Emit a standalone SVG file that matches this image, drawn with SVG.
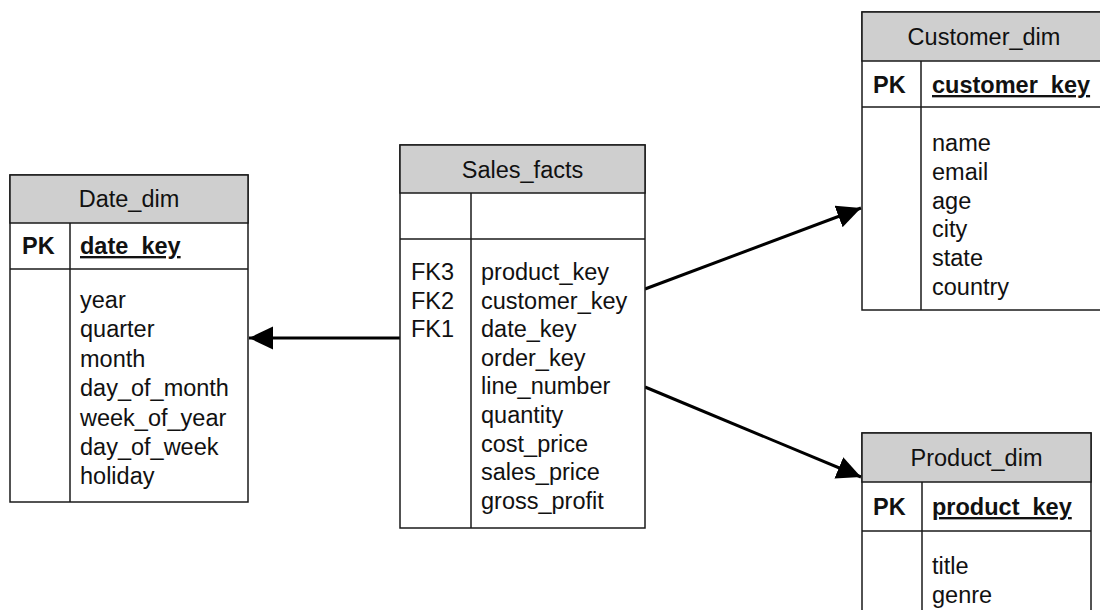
<svg xmlns="http://www.w3.org/2000/svg" width="1100" height="610" viewBox="0 0 1100 610">
<style>
.box{fill:#ffffff;stroke:#1a1a1a;stroke-width:1.5}
.hdr{fill:#cfcfcf;stroke:#1a1a1a;stroke-width:1.5}
.sep{stroke:#1a1a1a;stroke-width:1.5;fill:none}
text{font-family:"Liberation Sans",Arial,sans-serif;font-size:23.5px;fill:#111111}
.t{text-anchor:middle}
.b{font-weight:bold}
.u{font-weight:bold;text-decoration:underline}
.conn{stroke:#000000;stroke-width:3;fill:none;marker-end:url(#arr)}
</style>
<defs>
<marker id="arr" markerUnits="userSpaceOnUse" markerWidth="26" markerHeight="24" refX="24" refY="11.5" orient="auto" viewBox="0 0 26 24">
<path d="M0,0 L24,11.5 L0,23 z" fill="#000000"/>
</marker>
</defs>
<g id="connectors">
<line class="conn" x1="400" y1="338" x2="249" y2="338"/>
<line class="conn" x1="645" y1="289" x2="861" y2="208"/>
<line class="conn" x1="645" y1="387" x2="861" y2="477"/>
</g>
<g id="date_dim">
<rect class="box" x="10" y="175" width="238" height="327"/>
<rect class="hdr" x="10" y="175" width="238" height="48"/>
<line class="sep" x1="10" y1="269" x2="248" y2="269"/>
<line class="sep" x1="70" y1="223" x2="70" y2="502"/>
<text class="t" x="129" y="207">Date_dim</text>
<text class="b" x="22" y="254">PK</text>
<text class="u" x="80" y="254">date_key</text>
<text x="80" y="308">year<tspan x="80" dy="29.4">quarter</tspan><tspan x="80" dy="29.4">month</tspan><tspan x="80" dy="29.4">day_of_month</tspan><tspan x="80" dy="29.4">week_of_year</tspan><tspan x="80" dy="29.4">day_of_week</tspan><tspan x="80" dy="29.4">holiday</tspan></text>
</g>
<g id="sales_facts">
<rect class="box" x="400" y="145" width="245" height="383"/>
<rect class="hdr" x="400" y="145" width="245" height="48"/>
<line class="sep" x1="400" y1="239" x2="645" y2="239"/>
<line class="sep" x1="471" y1="193" x2="471" y2="528"/>
<text class="t" x="522.5" y="178">Sales_facts</text>
<text x="411" y="280">FK3<tspan x="411" dy="28.6">FK2</tspan><tspan x="411" dy="28.6">FK1</tspan></text>
<text x="481" y="280">product_key<tspan x="481" dy="28.6">customer_key</tspan><tspan x="481" dy="28.6">date_key</tspan><tspan x="481" dy="28.6">order_key</tspan><tspan x="481" dy="28.6">line_number</tspan><tspan x="481" dy="28.6">quantity</tspan><tspan x="481" dy="28.6">cost_price</tspan><tspan x="481" dy="28.6">sales_price</tspan><tspan x="481" dy="28.6">gross_profit</tspan></text>
</g>
<g id="customer_dim">
<rect class="box" x="862" y="12" width="244" height="298"/>
<rect class="hdr" x="862" y="12" width="244" height="49"/>
<line class="sep" x1="862" y1="107" x2="1106" y2="107"/>
<line class="sep" x1="921" y1="61" x2="921" y2="310"/>
<text class="t" x="984" y="45">Customer_dim</text>
<text class="b" x="873" y="93">PK</text>
<text class="u" x="932" y="93">customer_key</text>
<text x="932" y="151">name<tspan x="932" dy="28.8">email</tspan><tspan x="932" dy="28.8">age</tspan><tspan x="932" dy="28.8">city</tspan><tspan x="932" dy="28.8">state</tspan><tspan x="932" dy="28.8">country</tspan></text>
</g>
<g id="product_dim">
<rect class="box" x="862" y="433" width="229" height="190"/>
<rect class="hdr" x="862" y="433" width="229" height="49"/>
<line class="sep" x1="862" y1="531" x2="1091" y2="531"/>
<line class="sep" x1="922" y1="482" x2="922" y2="623"/>
<text class="t" x="976.5" y="466">Product_dim</text>
<text class="b" x="873" y="515">PK</text>
<text class="u" x="932" y="515">product_key</text>
<text x="932" y="574">title<tspan x="932" dy="28.5">genre</tspan></text>
</g>
</svg>
